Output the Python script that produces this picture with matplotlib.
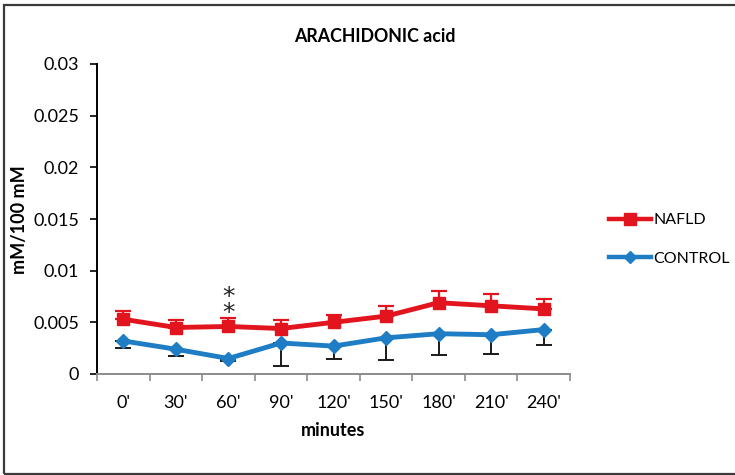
import matplotlib
matplotlib.use("Agg")
import matplotlib.pyplot as plt
from matplotlib.patches import Rectangle
from matplotlib.lines import Line2D

plt.rcParams['font.family'] = ['Lato', 'DejaVu Sans']

categories = ["0'", "30'", "60'", "90'", "120'", "150'", "180'", "210'", "240'"]
nafld = [0.0053, 0.0045, 0.0046, 0.0044, 0.0050, 0.0056, 0.0069, 0.0066, 0.0063]
nafld_err = [0.00075, 0.0007, 0.0008, 0.00087, 0.0007, 0.0010, 0.0011, 0.0011, 0.0010]
control = [0.0032, 0.0024, 0.0015, 0.0030, 0.0027, 0.0035, 0.0039, 0.0038, 0.0043]
control_err = [0.00065, 0.0007, 0.00023, 0.0022, 0.0012, 0.0021, 0.0021, 0.0019, 0.0015]
y_ticks = [0, 0.005, 0.01, 0.015, 0.02, 0.025, 0.03]
y_tick_labels = ["0", "0.005", "0.01", "0.015", "0.02", "0.025", "0.03"]
significant = [2]

red = '#E2151E'
blue = '#1E7DC4'

fig = plt.figure(figsize=(7.35, 4.75), dpi=100)
fig.patches.append(Rectangle((4 / 735, 1 / 475), 1.0, 469 / 475, transform=fig.transFigure,
                             fill=False, edgecolor='#3a3a3a', linewidth=1.6))

ax = fig.add_axes([97 / 735, 1 - 374 / 475, 473 / 735, 310 / 475])
x = list(range(len(categories)))

# NAFLD: upper error bars only
ax.errorbar(x, nafld, yerr=[[0] * len(x), nafld_err], fmt='none', ecolor=red,
            elinewidth=1.6, capsize=6, capthick=1.6, zorder=2)
ax.plot(x, nafld, color=red, linewidth=3.5, marker='s', markersize=9, zorder=3)

# CONTROL: lower error bars only
ax.errorbar(x, control, yerr=[control_err, [0] * len(x)], fmt='none', ecolor='#1a1a1a',
            elinewidth=1.4, capsize=6, capthick=1.4, zorder=2)
ax.plot(x, control, color=blue, linewidth=3.5, marker='D', markersize=7, zorder=3)

# significance asterisks stacked above the NAFLD point
for i in significant:
    ax.annotate('*\n*', xy=(i, nafld[i]), xytext=(0, 4.3), textcoords='offset points',
                ha='center', va='baseline', fontsize=18, color='#222222',
                family='DejaVu Sans', linespacing=0.6, multialignment='center')

ax.set_xlim(-0.5, len(categories) - 0.5)
ax.set_ylim(0, 0.03)
ax.set_yticks(y_ticks)
ax.set_yticklabels(y_tick_labels)
ax.set_xticks(x)
ax.set_xticklabels(categories)
ax.set_xticks([i - 0.5 for i in range(len(categories) + 1)], minor=True)
ax.tick_params(axis='x', which='major', length=0, pad=15, labelsize=13)
ax.tick_params(axis='x', which='minor', length=5, color='#8c8c8c', width=1.2)
ax.tick_params(axis='y', length=5, width=1.2, labelsize=13, pad=8)

for s in ['top', 'right']:
    ax.spines[s].set_visible(False)
ax.spines['left'].set_linewidth(1.4)
ax.spines['bottom'].set_color('#8c8c8c')
ax.spines['bottom'].set_linewidth(1.4)

ax.set_xlabel('minutes', fontsize=13, fontweight='bold', labelpad=8)
fig.text(20 / 735, 1 - 220 / 475, 'mM/100 mM', rotation=90, ha='center', va='center',
         fontsize=13, fontweight='bold')
fig.text(375 / 735, 1 - 36 / 475, 'ARACHIDONIC acid', ha='center', va='center',
         fontsize=12.8, fontweight='bold')

handles = [Line2D([], [], color=red, linewidth=3.2, marker='s', markersize=8),
           Line2D([], [], color=blue, linewidth=3.2, marker='D', markersize=6)]
fig.legend(handles, ['NAFLD', 'CONTROL'], loc='center left',
           bbox_to_anchor=(601 / 735, 1 - 239.5 / 475), frameon=False, fontsize=11.5,
           handlelength=2.6, handletextpad=0.2, labelspacing=1.55, borderpad=0)

fig.savefig('out.png', dpi=100)
